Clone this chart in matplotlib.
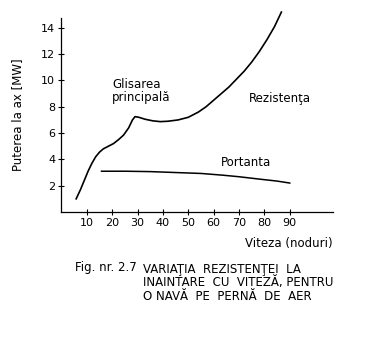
import matplotlib.pyplot as plt

# viteza (noduri) si puterea (MW) citite de pe curbe
rez_v = [5.8, 7.5, 9.0, 10.5, 12.0, 13.5, 15.0, 16.5, 18.5, 20.5, 22.5, 24.5, 26.5, 28.0,
         29.0, 30.5, 33.0, 36.0, 39.0, 42.0, 46.0, 50.0, 54.0, 57.0, 60.0, 63.0, 66.0,
         69.0, 72.0, 75.0, 78.0, 81.0, 84.0, 86.7]
rez_p = [1.0, 1.7, 2.4, 3.1, 3.7, 4.2, 4.55, 4.8, 5.0, 5.2, 5.5, 5.85, 6.4, 7.0,
         7.25, 7.2, 7.05, 6.93, 6.87, 6.9, 7.0, 7.2, 7.6, 8.0, 8.5, 9.0, 9.5,
         10.1, 10.7, 11.4, 12.2, 13.1, 14.1, 15.2]

port_v = [15.8, 25, 35, 45, 55, 63.5, 70, 78, 85, 90]
port_p = [3.1, 3.1, 3.07, 3.0, 2.93, 2.8, 2.68, 2.5, 2.35, 2.2]

xticks = [10, 20, 30, 40, 50, 60, 70, 80, 90]
yticks = [2, 4, 6, 8, 10, 12, 14]

fig = plt.figure(figsize=(3.77, 3.4), dpi=100)
ax = fig.add_axes([0.163, 0.3765, 0.72, 0.5706])

ax.plot(rez_v, rez_p, color='black', lw=1.2, clip_on=False)
ax.plot(port_v, port_p, color='black', lw=1.1, clip_on=False)

ax.set_xlim(0, 107)
ax.set_ylim(0, 14.75)
ax.set_xticks(xticks)
ax.set_yticks(yticks)
ax.tick_params(direction='inout', length=5, width=0.8, labelsize=8, pad=2)
for s in ['top', 'right']:
    ax.spines[s].set_visible(False)
for s in ['left', 'bottom']:
    ax.spines[s].set_linewidth(0.9)

ax.set_ylabel('Puterea la ax [MW]', fontsize=8.5, labelpad=12)
ax.text(107, -2.4, 'Viteza (noduri)', fontsize=8.5, ha='right', va='center')

ax.text(20, 9.2, 'Glisarea\nprincipală', fontsize=8.5, ha='left', va='center', linespacing=1.0)
ax.text(74, 8.6, 'Rezistenţa', fontsize=8.5, ha='left', va='center')
ax.text(63, 3.25, 'Portanta', fontsize=8.5, ha='left', va='bottom')

fig.text(0.2, 0.212, 'Fig. nr. 2.7', fontsize=8.5, ha='left', va='center')
fig.text(0.38, 0.169, 'VARIAŢIA  REZISTENŢEI  LA\nINAINTARE  CU  VITEZĂ, PENTRU\nO NAVĂ  PE  PERNĂ  DE  AER',
         fontsize=8.5, ha='left', va='center', linespacing=1.05)

fig.savefig('out.png', dpi=100)
